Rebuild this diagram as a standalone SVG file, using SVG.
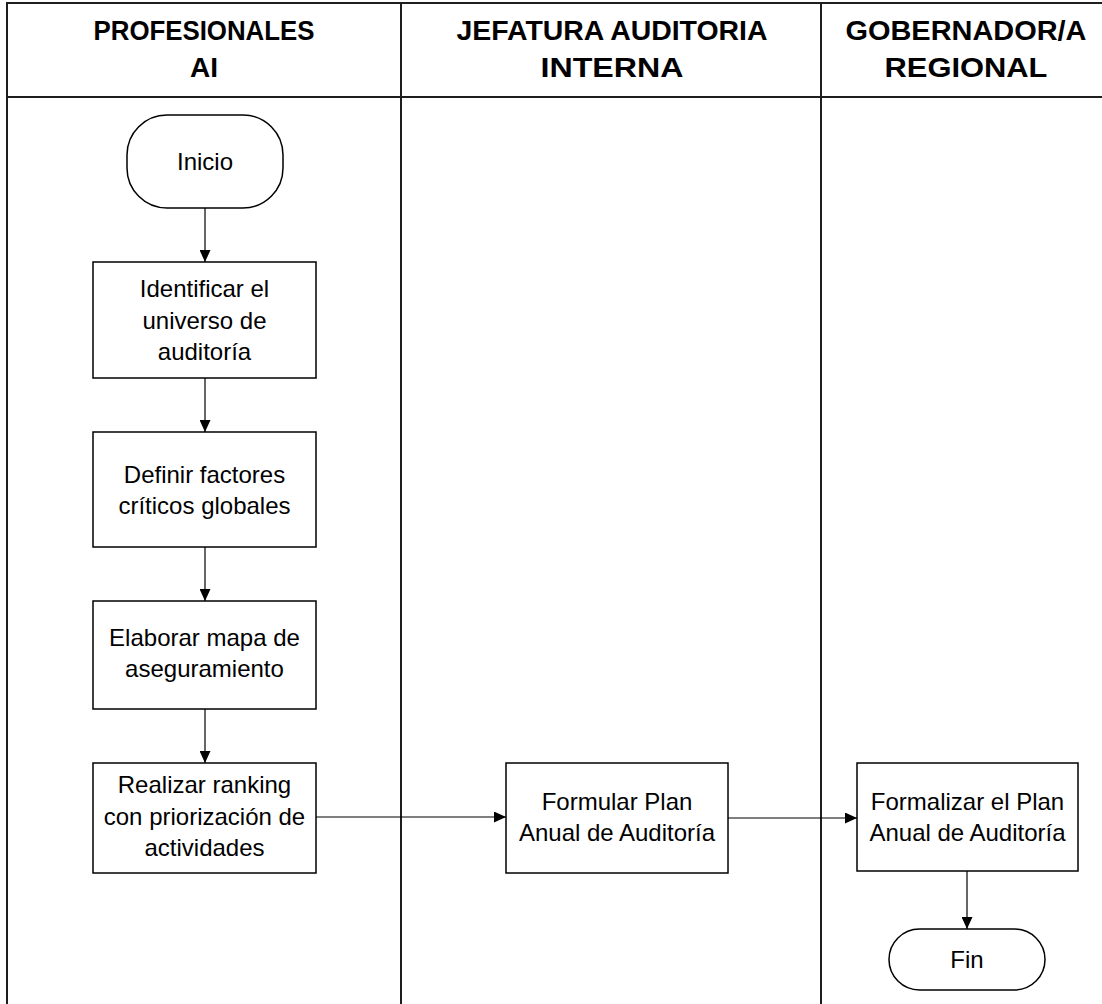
<svg xmlns="http://www.w3.org/2000/svg" width="1102" height="1004" viewBox="0 0 1102 1004">
  <defs>
    <marker id="arrow" viewBox="0 0 12 11" refX="12" refY="5.5" markerWidth="12" markerHeight="11" markerUnits="userSpaceOnUse" orient="auto">
      <path d="M0,0 L12,5.5 L0,11 Z" fill="#000"/>
    </marker>
    <style>
      .lane { fill: none; stroke: #1e1e1e; stroke-width: 2; }
      .box { fill: #fff; stroke: #000; stroke-width: 1.5; }
      .hdr { font-family: "Liberation Sans", Arial, sans-serif; font-weight: bold; font-size: 27px; fill: #000; text-anchor: middle; }
      .lbl { font-family: "Liberation Sans", Arial, sans-serif; font-size: 24px; fill: #000; text-anchor: middle; }
      .conn { fill: none; stroke: #000; stroke-width: 1.2; marker-end: url(#arrow); }
    </style>
  </defs>
  <rect width="1102" height="1004" fill="#fff"/>

  <!-- swimlane frame -->
  <g id="lanes">
    <path class="lane" d="M7,1010 V3 H1110"/>
    <path class="lane" d="M7,97 H1110"/>
    <path class="lane" d="M401,3 V1010"/>
    <path class="lane" d="M821,3 V1010"/>
    <text class="hdr" x="204" y="40" textLength="221" lengthAdjust="spacingAndGlyphs">PROFESIONALES</text>
    <text class="hdr" x="204" y="77" textLength="28" lengthAdjust="spacingAndGlyphs">AI</text>
    <text class="hdr" x="612" y="40" textLength="311" lengthAdjust="spacingAndGlyphs">JEFATURA AUDITORIA</text>
    <text class="hdr" x="612" y="77" textLength="143" lengthAdjust="spacingAndGlyphs">INTERNA</text>
    <text class="hdr" x="966" y="40" textLength="241" lengthAdjust="spacingAndGlyphs">GOBERNADOR/A</text>
    <text class="hdr" x="966" y="77" textLength="163" lengthAdjust="spacingAndGlyphs">REGIONAL</text>
  </g>

  <!-- connectors -->
  <g id="connectors">
    <path class="conn" d="M205,208 V262"/>
    <path class="conn" d="M205,378 V432"/>
    <path class="conn" d="M205,547 V601"/>
    <path class="conn" d="M205,709 V763"/>
    <path class="conn" d="M316,817 H506"/>
    <path class="conn" d="M728,818 H857"/>
    <path class="conn" d="M967,871 V929"/>
  </g>

  <g id="inicio">
    <rect class="box" x="127" y="115" width="156" height="93" rx="40" ry="40"/>
    <text class="lbl" x="205" y="170">Inicio</text>
  </g>

  <g id="identificar">
    <rect class="box" x="93" y="262" width="223" height="116"/>
    <text class="lbl" x="204.5" y="297">Identificar el</text>
    <text class="lbl" x="204.5" y="329">universo de</text>
    <text class="lbl" x="204.5" y="360">auditoría</text>
  </g>

  <g id="definir">
    <rect class="box" x="93" y="432" width="223" height="115"/>
    <text class="lbl" x="204.5" y="483">Definir factores</text>
    <text class="lbl" x="204.5" y="514">críticos globales</text>
  </g>

  <g id="elaborar">
    <rect class="box" x="93" y="601" width="223" height="108"/>
    <text class="lbl" x="204.5" y="646">Elaborar mapa de</text>
    <text class="lbl" x="204.5" y="677">aseguramiento</text>
  </g>

  <g id="realizar">
    <rect class="box" x="93" y="763" width="223" height="110"/>
    <text class="lbl" x="204.5" y="793">Realizar ranking</text>
    <text class="lbl" x="204.5" y="825">con priorización de</text>
    <text class="lbl" x="204.5" y="856">actividades</text>
  </g>

  <g id="formular">
    <rect class="box" x="506" y="763" width="222" height="110"/>
    <text class="lbl" x="617" y="810">Formular Plan</text>
    <text class="lbl" x="617" y="841">Anual de Auditoría</text>
  </g>

  <g id="formalizar">
    <rect class="box" x="857" y="763" width="221" height="108"/>
    <text class="lbl" x="967.5" y="810">Formalizar el Plan</text>
    <text class="lbl" x="967.5" y="841">Anual de Auditoría</text>
  </g>

  <g id="fin">
    <rect class="box" x="889" y="929" width="156" height="61" rx="30.5" ry="30.5"/>
    <text class="lbl" x="967" y="968">Fin</text>
  </g>
</svg>
